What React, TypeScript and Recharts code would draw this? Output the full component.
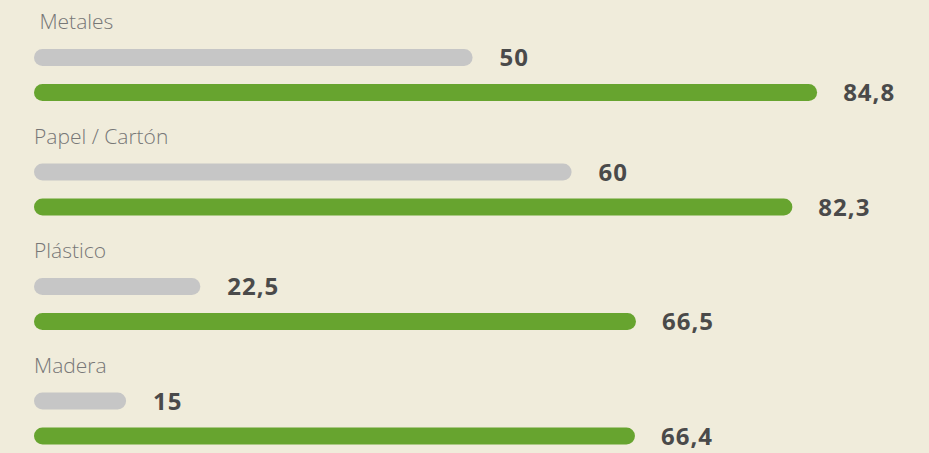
import React from 'react';
import { BarChart, Bar, XAxis, YAxis, LabelList } from 'recharts';

// Values
const categories = [' Metales', 'Papel / Cartón', 'Plástico', 'Madera'];
const grayValues = [50, 60, 22.5, 15];
const greenValues = [84.8, 82.3, 66.5, 66.4];

const BG = '#f0ecdb';
const GRAY = '#c6c6c6';
const GREEN = '#67a42f';

const data = categories.map((name, i) => ({
  name,
  gray: grayValues[i],
  green: greenValues[i]
}));

const formatValue = (v: any) => String(v).replace('.', ',');

const CategoryTick = (props: any) => {
  const { x, y, payload } = props;
  return (
    <text
      x={x}
      y={y - 46}
      textAnchor="start"
      fill="#777777"
      fontSize={21}
      fontFamily="'Open Sans', sans-serif"
      fontWeight={300}
      style={{ whiteSpace: 'pre' }}
    >
      {payload.value}
    </text>
  );
};

const labelStyle = {
  fill: '#4a4a4a',
  fontSize: 24,
  fontWeight: 700,
  fontFamily: "'Open Sans', sans-serif",
  letterSpacing: 1
};

export default function App() {
  return (
    <div
      style={{
        position: 'fixed',
        left: 0,
        top: 0,
        width: 929,
        height: 453,
        overflow: 'hidden',
        background: BG
      }}
    >
      <BarChart
        width={929}
        height={480}
        data={data}
        layout="vertical"
        margin={{ top: 18, right: 0, bottom: 4, left: 0 }}
        barSize={17}
        barGap={18}
      >
        <XAxis type="number" hide domain={[5.7, 96.1]} allowDataOverflow />
        <YAxis
          type="category"
          dataKey="name"
          width={34}
          axisLine={false}
          tickLine={false}
          tickSize={0}
          tickMargin={0}
          tick={<CategoryTick />}
        />
        <Bar dataKey="gray" fill={GRAY} radius={8.5} isAnimationActive={false}>
          <LabelList dataKey="gray" position="right" offset={27} formatter={formatValue} style={labelStyle} />
        </Bar>
        <Bar dataKey="green" fill={GREEN} radius={8.5} isAnimationActive={false}>
          <LabelList dataKey="green" position="right" offset={26} formatter={formatValue} style={labelStyle} />
        </Bar>
      </BarChart>
    </div>
  );
}
